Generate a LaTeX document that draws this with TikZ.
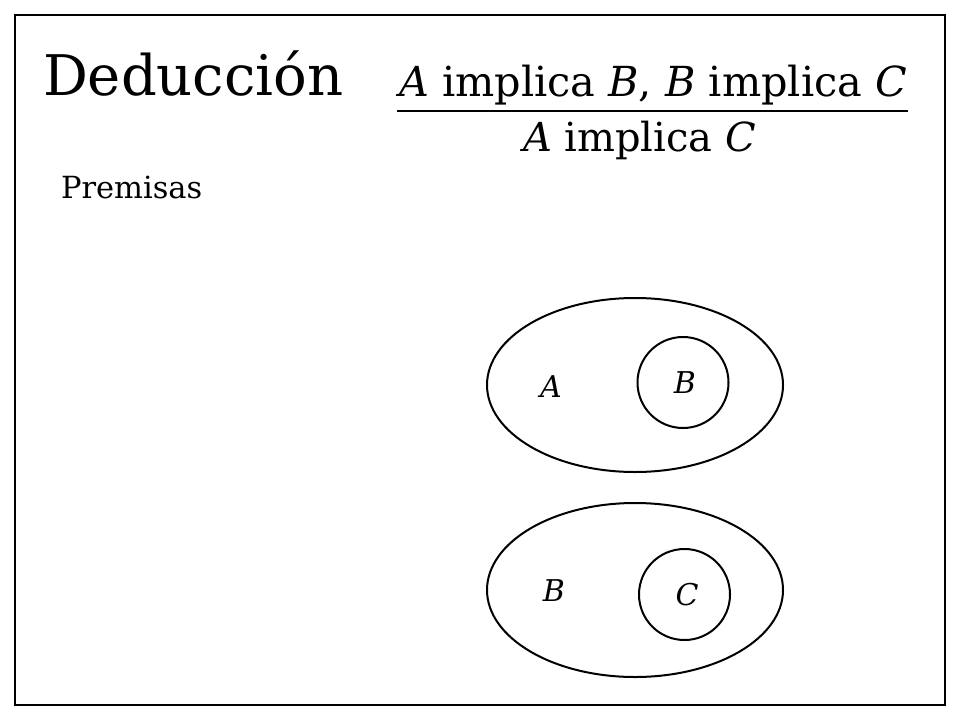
\documentclass[tikz,border=0pt]{standalone}
\usepackage{fontspec}
\setmainfont{DejaVu Serif}
\begin{document}
\begin{tikzpicture}[x=1pt,y=-1pt,line width=2pt]
			\tikzstyle{every node}+=[inner sep=0pt]
			\tikzstyle{bigtext}=[font=\fontsize{56}{56}\selectfont]
			\tikzstyle{ruletext}=[font=\fontsize{40}{40}\selectfont]
			\tikzstyle{smalltext}=[font=\fontsize{30.5}{30.5}\selectfont]
			\tikzstyle{setlabel}=[font=\fontsize{30}{30}\selectfont\itshape]
			\useasboundingbox (0,0) rectangle (960,720);
			\draw [black] (15,15) rectangle (945,705);
			% heading and rule
			\node [bigtext, anchor=base west] (title) at (42,95) {Deducción};
			\node [ruletext, font=\fontsize{41.4}{41.4}\selectfont, anchor=base west] (premises) at (398,96) {\textit{A} implica \textit{B}, \textit{B} implica \textit{C}};
			\coordinate (barL) at (397,111);
			\coordinate (barR) at (908,111);
			\draw [black] (barL) -- (barR);
			\node [ruletext, anchor=base west] (conclusion) at (522,151) {\textit{A} implica \textit{C}};
			\node [smalltext, anchor=base west] (premlabel) at (60,198) {Premisas};
			% first premise: B inside A
			\draw [black] (635,385) ellipse (148 and 87);
			\draw [black] (683,382.5) circle (45.5);
			\node [setlabel] (labA) at (551,387) {A};
			\node [setlabel] (labB) at (685,383) {B};
			% second premise: C inside B
			\draw [black] (635,590) ellipse (148 and 87);
			\draw [black] (684.5,594.5) circle (45.5);
			\node [setlabel] (labBtwo) at (554,591) {B};
			\node [setlabel] (labC) at (687,594.5) {C};
\end{tikzpicture}
\end{document}
